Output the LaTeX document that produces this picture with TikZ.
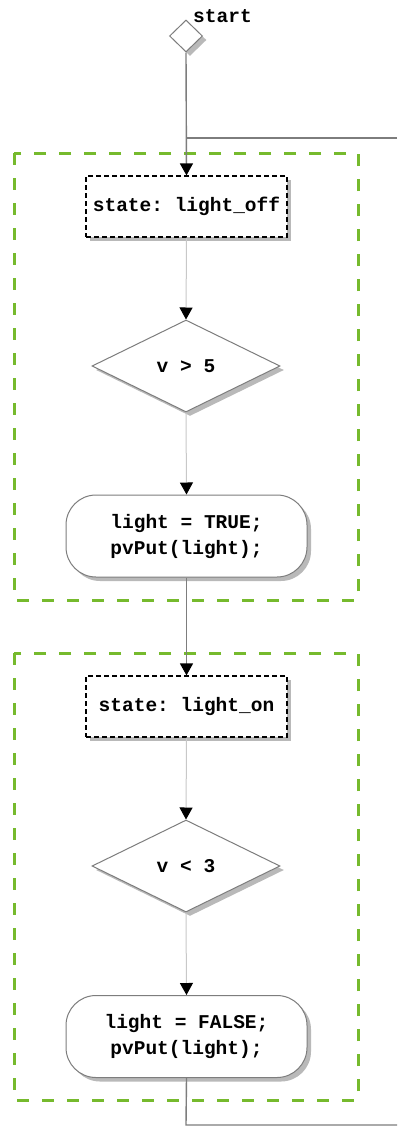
\documentclass[tikz,border=0pt]{standalone}
\usepackage{fontspec}
\setmonofont{Liberation Mono}
\usetikzlibrary{shapes.geometric,arrows.meta,shadows}
\definecolor{grp}{RGB}{118,186,45}
\definecolor{lnk}{RGB}{125,125,125}
\definecolor{lnklight}{RGB}{200,200,200}
\tikzset{
  txt/.style={font=\ttfamily\bfseries\fontsize{19.5}{26}\selectfont, align=center},
  shad/.style={drop shadow={opacity=0.55, shadow xshift=4pt, shadow yshift=-4pt}},
  statebox/.style={txt, rectangle, draw=black, line width=1.2pt, dash pattern=on 5pt off 3pt, fill=white, minimum width=201pt, minimum height=61pt, inner sep=0pt, shad},
  decbox/.style={txt, diamond, draw=lnk, line width=1pt, fill=white, minimum width=188pt, minimum height=92pt, inner sep=0pt, shad},
  actbox/.style={txt, rectangle, rounded corners=30pt, draw=lnk, line width=1pt, fill=white, minimum width=241pt, minimum height=82pt, inner sep=0pt, shad},
  startnode/.style={diamond, draw=lnk, line width=1pt, fill=white, minimum width=33pt, minimum height=32pt, inner sep=0pt, aspect=1, shad},
  group/.style={draw=grp, line width=3pt, dash pattern=on 12pt off 13pt},
  flow/.style={draw=lnk, line width=1.4pt, -{Triangle[length=12pt,width=13pt,fill=black,color=black]}},
  flowlight/.style={draw=lnklight, line width=1pt, -{Triangle[length=12pt,width=13pt,fill=black,color=black]}},
  plain/.style={draw=lnk, line width=1.4pt},
}
\begin{document}
\begin{tikzpicture}[x=1pt,y=-1pt]
\useasboundingbox (0,0) rectangle (397,1127);
\fill[white] (0,0) rectangle (397,1127);
% groups
\draw[group] (14,153) rectangle (358,600);
\draw[group] (14,653) rectangle (358,1100);
% nodes
\node[startnode] (start) at (186,36) {};
\node[txt, anchor=west, inner sep=0pt] (startlbl) at (193,16) {start};
\node[statebox] (s1) at (186.5,206.5) {state: light\_off};
\node[decbox] (d1) at (186,366) {v > 5};
\node[actbox] (a1) at (186.5,536) {light = TRUE;\\pvPut(light);};
\node[statebox] (s2) at (186.5,706.5) {state: light\_on};
\node[decbox] (d2) at (186,866) {v < 3};
\node[actbox] (a2) at (186.5,1036.5) {light = FALSE;\\pvPut(light);};
\coordinate (j1) at (186,138);
\coordinate (r1) at (397,138);
\coordinate (j2) at (186,1125);
\coordinate (r2) at (397,1125);
% connectors
\draw[flow] (start.south) -- (s1.north);
\draw[plain] (r1) -- (j1);
\draw[flowlight] (s1.south) -- (d1.north);
\draw[flowlight] (d1.south) -- (a1.north);
\draw[flow] (a1.south) -- (s2.north);
\draw[flowlight] (s2.south) -- (d2.north);
\draw[flowlight] (d2.south) -- (a2.north);
\draw[plain] (a2.south) -- (j2) -- (r2);
\end{tikzpicture}
\end{document}
